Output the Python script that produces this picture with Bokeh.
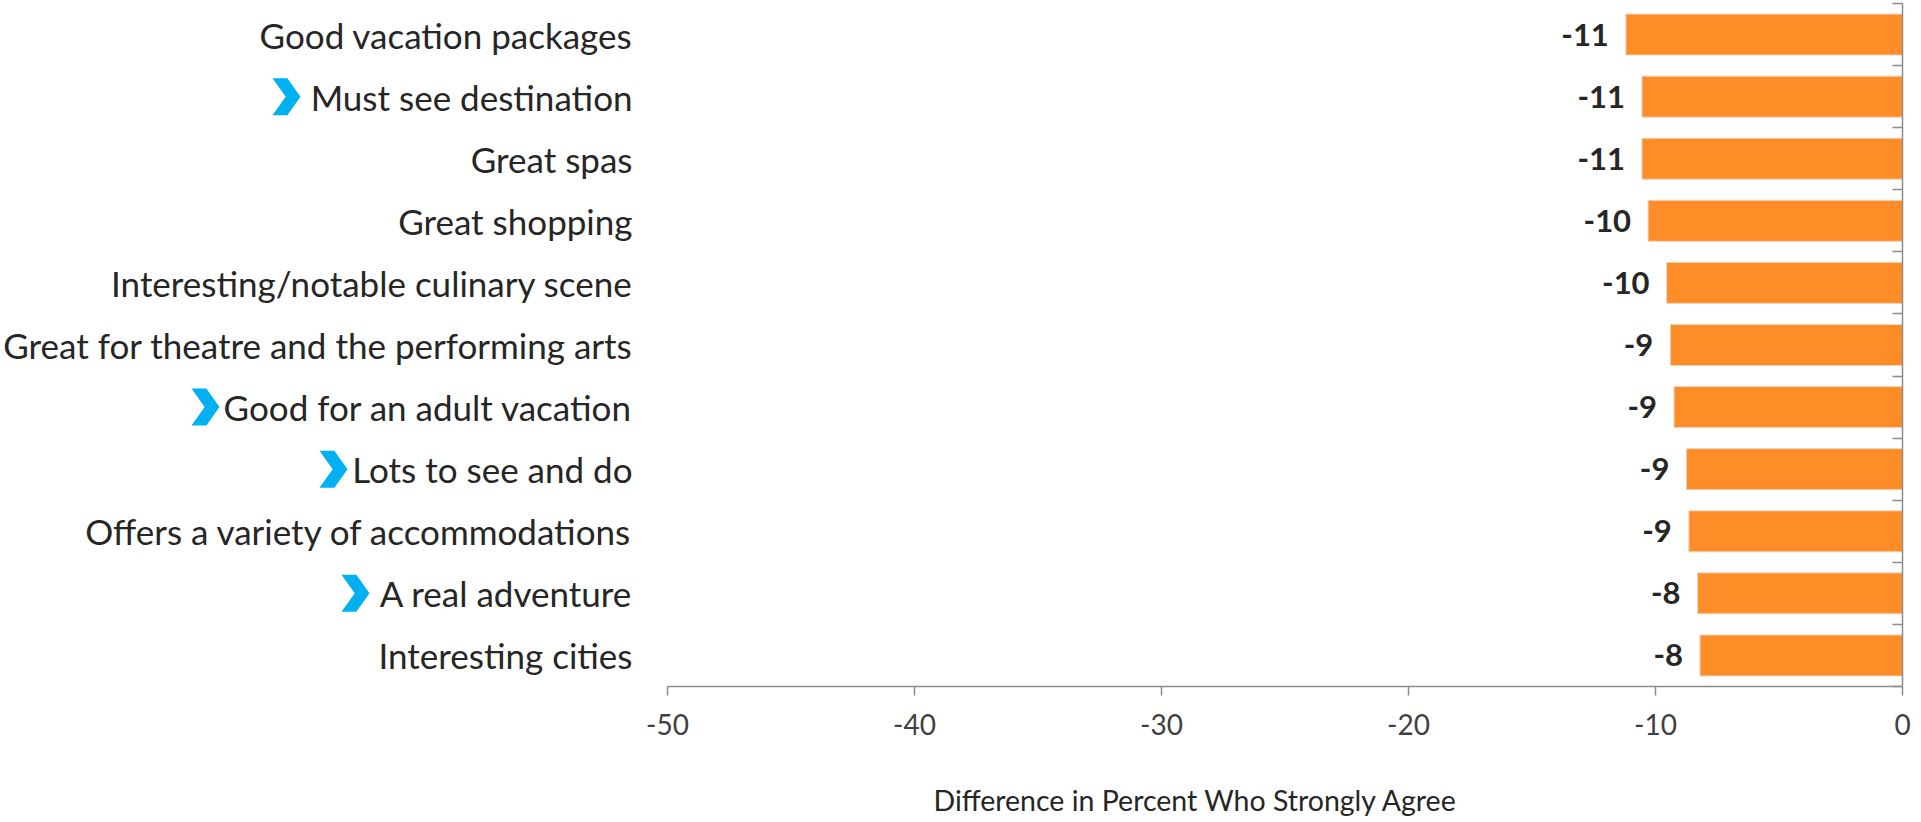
from bokeh.plotting import figure
from bokeh.models import (Range1d, FixedTicker, LinearAxis, LabelSet,
                          ColumnDataSource, Title)
from bokeh.core.properties import value
from bokeh.embed import file_html
from bokeh.resources import INLINE

# ---------------- data (top to bottom) ----------------
categories = [
    "Good vacation packages",
    "Must see destination",
    "Great spas",
    "Great shopping",
    "Interesting/notable culinary scene",
    "Great for theatre and the performing arts",
    "Good for an adult vacation",
    "Lots to see and do",
    "Offers a variety of accommodations",
    "A real adventure",
    "Interesting cities",
]
values = [-11.2, -10.55, -10.55, -10.3, -9.55, -9.4, -9.25, -8.75, -8.65, -8.3, -8.2]
highlighted = ["Must see destination", "Good for an adult vacation",
               "Lots to see and do", "A real adventure"]
x_ticks = [-50, -40, -30, -20, -10, 0]
x_title = "Difference in Percent Who Strongly Agree"

# ---------------- styling ----------------
BAR = "#FE8C27"
BLUE = "#00B0F0"
TXT = "#262626"
AX = "#8C8C8C"
FONT = "Lato"

W, H = 1913, 822
FRAME_TOP, FRAME_BOTTOM, FRAME_RIGHT = 3, 686, 1902
AXIS_LEFT_PX = 667                       # where x = -50 sits
TITLE_LEFT_PX = 933                      # where the axis title starts
px_per_x = (FRAME_RIGHT - AXIS_LEFT_PX) / 50.0
x_min = -FRAME_RIGHT / px_per_x          # frame starts at page x = 0

n = len(categories)
ys = [n - i - 0.5 for i in range(n)]
labels = [str(int(round(v))) for v in values]
px_per_y = (FRAME_BOTTOM - FRAME_TOP) / n

src = ColumnDataSource(dict(y=ys, v=values, lab=labels, cat=categories))

p = figure(width=W, height=H, x_range=Range1d(x_min, 0), y_range=Range1d(0, n),
           output_backend="svg", toolbar_location=None,
           min_border_left=0, min_border_right=W - FRAME_RIGHT,
           min_border_top=FRAME_TOP, min_border_bottom=H - FRAME_BOTTOM)
p.outline_line_color = None
p.grid.visible = False
p.yaxis.visible = False

p.hbar(y="y", left=0, right="v", height=0.66, source=src,
       fill_color=BAR, line_color="#E8D5C2", line_width=1)

p.add_layout(LabelSet(x="v", y="y", text="lab", source=src, x_offset=-17,
                      text_align="right", text_baseline="middle",
                      text_font=value(FONT), text_font_style="bold",
                      text_font_size="31px", text_color=TXT))

# category labels, right-aligned left of the x = -50 position
p.text(x=-50, y="y", text="cat", source=src, x_offset=-35,
       text_align="right", text_baseline="middle",
       text_font=value(FONT), text_font_size="35px", text_color=TXT)

# blue chevrons before highlighted categories
chev_right = {"Must see destination": 300, "Good for an adult vacation": 219,
              "Lots to see and do": 347, "A real adventure": 369}
cw = 28 / px_per_x
ch = 37 / px_per_y
cxs, cys = [], []
for cat in highlighted:
    yc = ys[categories.index(cat)]
    xr = -50 + (chev_right[cat] - AXIS_LEFT_PX) / px_per_x
    xl = xr - cw
    cxs.append([xl, xl + 0.53 * cw, xr, xl + 0.53 * cw, xl, xl + 0.47 * cw])
    cys.append([yc + ch / 2, yc + ch / 2, yc, yc - ch / 2, yc - ch / 2, yc])
p.patches(xs=cxs, ys=cys, fill_color=BLUE, line_color=None)

# vertical axis at x = 0 with ticks between the bars
ra = LinearAxis(ticker=FixedTicker(ticks=[], minor_ticks=list(range(n + 1))),
                minor_tick_in=10, minor_tick_out=0,
                minor_tick_line_color=AX, minor_tick_line_width=1.5,
                major_tick_line_color=None,
                axis_line_color=AX, axis_line_width=1.5)
p.add_layout(ra, "right")

xa = p.xaxis[0]
xa.bounds = (-50, 0)
xa.ticker = FixedTicker(ticks=x_ticks)
xa.major_label_overrides = {t: str(t) for t in x_ticks}
xa.axis_line_color = AX
xa.axis_line_width = 1.5
xa.major_tick_line_color = AX
xa.major_tick_line_width = 1.5
xa.major_tick_in = 0
xa.major_tick_out = 9
xa.minor_tick_line_color = None
xa.major_label_standoff = 18
xa.major_label_text_font = FONT
xa.major_label_text_font_size = "28px"
xa.major_label_text_color = "#404040"

# blank spacer band (white tick on white, no visible label) above the title
spacer = LinearAxis(ticker=FixedTicker(ticks=[x_min + 2]), axis_line_color=None,
                    major_tick_line_color="white", major_tick_line_width=1,
                    minor_tick_line_color=None,
                    major_tick_in=0, major_tick_out=43, minor_tick_out=0,
                    major_label_standoff=0, major_label_text_font_size="1px",
                    major_label_text_color=None)
p.add_layout(spacer, "below")

p.add_layout(Title(text=x_title, align="left", offset=TITLE_LEFT_PX,
                   text_font=FONT, text_font_size="28.5px",
                   text_font_style="normal", text_color=TXT, standoff=0),
             "below")

open("out.html", "w").write(file_html(p, INLINE))
